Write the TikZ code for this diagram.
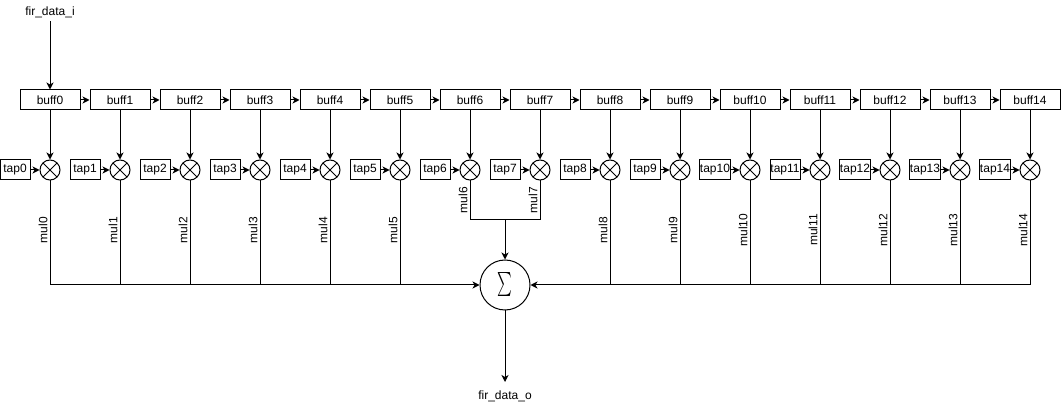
\documentclass[tikz,border=0pt]{standalone}
\usepackage{fontspec}
\setmainfont{Liberation Sans}
\usetikzlibrary{arrows.meta}
\begin{document}
\begin{tikzpicture}[x=1pt,y=-1pt,
  font=\fontsize{12}{14}\selectfont,
  line width=1pt,
  arr/.style={-{Stealth[length=7pt,width=7pt,inset=2pt]}},
  buffbox/.style={draw,minimum width=60pt,minimum height=20pt,inner sep=0pt},
  tapbox/.style={draw,minimum width=30pt,minimum height=20pt,inner sep=0pt},
  mulnode/.style={draw,circle,minimum size=20pt,inner sep=0pt,
    path picture={\draw[line width=1pt] (path picture bounding box.north west)--(path picture bounding box.south east)
      (path picture bounding box.north east)--(path picture bounding box.south west);}},
  lbl/.style={rotate=90,anchor=south,inner sep=2pt}]
\useasboundingbox (0,0) rectangle (1061,406);
\node (in) at (50,12) {fir\_data\_i};
\node[draw,circle,minimum size=50pt,inner sep=0pt] (sum) at (505,285)
  {\scalebox{1.4}[2.4]{$\textstyle\sum$}};
\node (out) at (505,396) {fir\_data\_o};
\coordinate (outend) at (505,382);
\foreach \i in {0,...,14}{
  \pgfmathsetmacro{\xc}{50+70*\i}
  \node[buffbox] (b\i) at (\xc,100) {buff\i};
  \node[mulnode] (m\i) at (\xc,170) {};
  \node[tapbox] (t\i) at (\xc-35,170) {tap\i};
  \draw[arr] (b\i) -- (m\i);
  \draw[arr] (t\i) -- (m\i);
}
\foreach \i [count=\j] in {0,...,13}{
  \draw[arr] (b\i) -- (b\j);
}
\draw[arr] (in) -- (b0);
% left side collection
\foreach \i in {0,...,5}{
  \pgfmathsetmacro{\xc}{50+70*\i}
  \coordinate (c\i) at (\xc,285);
  \draw (m\i) -- (c\i);
  \node[lbl] at (\xc,230) {mul\i};
}
\draw[arr] (c0) -- (sum);
% right side collection
\foreach \i in {8,...,14}{
  \pgfmathsetmacro{\xc}{50+70*\i}
  \coordinate (c\i) at (\xc,285);
  \draw (m\i) -- (c\i);
  \node[lbl] at (\xc,230) {mul\i};
}
\draw[arr] (c14) -- (sum);
% mul6 and mul7
\coordinate (j6) at (470,220);
\coordinate (j7) at (540,220);
\coordinate (jm) at (505,220);
\draw (m6) -- (j6) -- (j7) -- (m7);
\draw[arr] (jm) -- (sum);
\node[lbl] at (470,200) {mul6};
\node[lbl] at (540,200) {mul7};
\draw[arr] (sum) -- (outend);
\end{tikzpicture}
\end{document}
